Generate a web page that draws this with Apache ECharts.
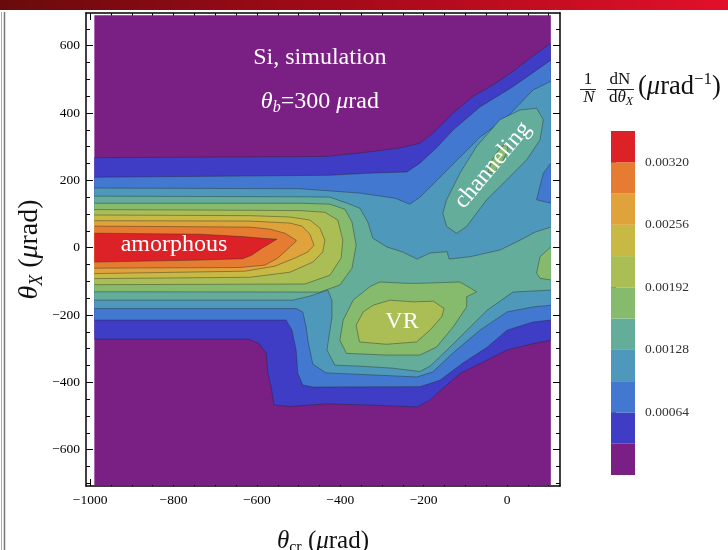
<!DOCTYPE html>
<html><head><meta charset="utf-8">
<script src="https://cdn.jsdelivr.net/npm/echarts@6/dist/echarts.min.js"></script>
<style>html,body{margin:0;padding:0;background:#fff}#c{width:728px;height:550px}</style>
</head><body><div id="c"></div>
<script>
// ---------- data ----------
const X_TICKS = [-1000, -800, -600, -400, -200, 0];
const Y_TICKS = [-600, -400, -200, 0, 200, 400, 600];
const X_MINOR = [-1000,-950,-900,-850,-800,-750,-700,-650,-600,-550,-500,-450,-400,-350,-300,-250,-200,-150,-100,-50,0,50,100];
const Y_MINOR = [-700,-650,-600,-550,-500,-450,-400,-350,-300,-250,-200,-150,-100,-50,0,50,100,150,200,250,300,350,400,450,500,550,600,650];
const DATA_X = [-990, 105];
const DATA_Y = [-705, 690];
// band lower bounds (1/N dN/dθX, µrad^-1)
const LEVELS = [0, 0.00032, 0.00064, 0.00096, 0.00128, 0.0016, 0.00192, 0.00224, 0.00256, 0.00288, 0.0032];
const CB_MAX = 0.00352;
const CB_TICKS = [0.00064, 0.00128, 0.00192, 0.00256, 0.0032];
const LEVEL_COLORS = ['#7a1f84','#3f3cc6','#4278d0','#4e98bb','#64ad9b','#86bb6e','#abbd55','#c8b945','#e0a23a','#e67c32','#dc2227'];

// contour regions (superlevel sets) in (θcr, θX) µrad
const L0 = [[-990,-705],[-990,690],[105,690],[105,-705]];
const L1 = [[-990,267],[-434,271],[-353,281],[-257,296],[-209,310],[-178,340],[-130,399],[-82,449],[-34,483],[14,523],[62,569],[105,607],[105,-275],[62,-285],[0,-304],[-48,-334],[-113,-374],[-168,-433],[-185,-453],[-216,-473],[-320,-468],[-434,-464],[-523,-472],[-559,-467],[-566,-413],[-574,-372],[-578,-313],[-595,-285],[-619,-272],[-990,-272]];
const L2 = [[-990,209],[-425,215],[-336,221],[-240,225],[-209,251],[-168,298],[-130,349],[-65,418],[14,478],[105,557],[105,-215],[62,-221],[0,-245],[-48,-296],[-106,-343],[-161,-394],[-209,-413],[-466,-414],[-490,-408],[-502,-373],[-506,-304],[-516,-245],[-530,-215],[-990,-215]];
const L3 = [[-990,177],[-497,175],[-353,162],[-269,147],[-233,129],[-209,150],[-168,200],[-120,260],[-65,328],[0,388],[62,468],[105,494],[105,251],[87,221],[79,183],[71,142],[105,132],[105,-171],[62,-176],[0,-191],[-65,-245],[-130,-313],[-178,-369],[-216,-384],[-434,-372],[-466,-346],[-478,-275],[-482,-235],[-490,-191],[-506,-181],[-990,-181]];
const L4_MAIN = [[-990,153],[-497,151],[-425,150],[-384,132],[-353,117],[-334,76],[-322,28],[-288,2],[-250,-13],[-216,-34],[-185,-16],[-144,-12],[-139,-34],[-89,-27],[-17,-7],[31,22],[67,46],[105,61],[105,-126],[14,-132],[-48,-186],[-96,-245],[-144,-304],[-185,-352],[-209,-368],[-274,-358],[-353,-352],[-413,-349],[-432,-304],[-420,-206],[-420,-156],[-430,-126],[-473,-144],[-514,-156],[-990,-156]];
const L4_CHAN = [[-154,102],[-145,142],[-113,221],[-73,301],[-17,380],[31,409],[71,414],[87,380],[79,320],[47,261],[-1,201],[-49,142],[-97,63],[-121,43],[-145,63]];
const L5_AMOR = [[-990,132],[-497,132],[-425,129],[-389,114],[-372,76],[-362,7],[-372,-61],[-401,-111],[-449,-132],[-990,-131]];
const L5_VR = [[-401,-275],[-393,-215],[-369,-156],[-329,-116],[-305,-102],[-241,-106],[-209,-106],[-113,-102],[-73,-131],[-97,-146],[-97,-176],[-129,-235],[-169,-295],[-209,-319],[-289,-319],[-385,-314]];
const L5_EDGE = [[105,2],[79,-27],[71,-76],[79,-91],[105,-96]];
const L5_CHAN = [[-46,224],[-36,260],[-17,296],[0,310],[2,290],[-12,254],[-31,224]];
const L6_AMOR = [[-990,113],[-617,111],[-497,110],[-437,105],[-406,82],[-394,22],[-398,-31],[-425,-82],[-485,-108],[-990,-110]];
const L6_VR = [[-362,-230],[-345,-191],[-321,-171],[-281,-156],[-225,-161],[-177,-159],[-151,-181],[-157,-206],[-185,-245],[-217,-280],[-289,-287],[-354,-280]];
const L7 = [[-990,97],[-617,95],[-521,91],[-473,82],[-449,58],[-437,22],[-442,-13],[-466,-43],[-521,-73],[-617,-88],[-990,-92]];
const L8 = [[-990,80],[-617,79],[-521,73],[-492,64],[-473,40],[-463,7],[-478,-13],[-509,-31],[-557,-55],[-629,-70],[-990,-77]];
const L9 = [[-990,64],[-617,61],[-569,55],[-533,43],[-506,22],[-506,19],[-526,-4],[-550,-31],[-581,-52],[-641,-59],[-990,-61]];
const L10 = [[-990,43],[-737,40],[-636,33],[-588,28],[-552,25],[-564,16],[-588,-2],[-612,-22],[-634,-33],[-737,-37],[-990,-43]];

const CONTOURS = [
  {level:0, pts:L0},{level:1, pts:L1},{level:2, pts:L2},{level:3, pts:L3},
  {level:4, pts:L4_MAIN},{level:4, pts:L4_CHAN},
  {level:5, pts:L5_AMOR},{level:5, pts:L5_VR},{level:5, pts:L5_EDGE},{level:5, pts:L5_CHAN},
  {level:6, pts:L6_AMOR},{level:6, pts:L6_VR},
  {level:7, pts:L7},{level:8, pts:L8},{level:9, pts:L9},{level:10, pts:L10}
];

// annotations (text, data position, rotation in degrees)
const ANNOT_TEXT = ['Si, simulation', '{i|θ}{s|b}=300 {i|μ}rad', 'amorphous', 'VR', 'channeling'];
const ANNOT_POS = [[-449,563],[-449,435],[-799,8],[-252,-221],[-34,245]];
const ANNOT_ROT = [0, 0, 0, 0, 50];

// ---------- chart ----------
const SERIF = '"Liberation Serif","DejaVu Serif",serif';
const chart = echarts.init(document.getElementById('c'), null, {renderer:'canvas'});
const fmt = v => String(v).replace('-', '\u2212');
const G = {left:86, top:13, width:474, height:473, containLabel:false, outerBoundsMode:'none'};
const XR = {min:-1010, max:127}, YR = {min:-708, max:697};
const AF = 24; // annotation font size

function onBorder(a, b) {
  return (a[0] === b[0] && (a[0] === DATA_X[0] || a[0] === DATA_X[1])) ||
         (a[1] === b[1] && (a[1] === DATA_Y[0] || a[1] === DATA_Y[1]));
}
function contourItem(params, api) {
  const c = CONTOURS[params.dataIndex];
  const pts = c.pts.map(p => api.coord(p));
  const children = [{type:'polygon', shape:{points:pts}, style:{fill:LEVEL_COLORS[c.level]}}];
  if (c.level > 0) {
    const n = c.pts.length, lines = [];
    let cur = [];
    for (let i = 0; i < n; i++) {
      const j = (i + 1) % n;
      if (onBorder(c.pts[i], c.pts[j])) { if (cur.length > 1) lines.push(cur); cur = []; }
      else { if (!cur.length) cur.push(pts[i]); cur.push(pts[j]); }
    }
    if (cur.length > 1) lines.push(cur);
    lines.forEach(l => children.push({type:'polyline', shape:{points:l},
      style:{fill:null, stroke:'rgba(35,35,35,0.5)', lineWidth:0.8}}));
  }
  return {type:'group', children};
}
function annotItem(params, api) {
  const i = params.dataIndex;
  const p = api.coord(ANNOT_POS[i]);
  return {type:'text', x:p[0], y:p[1], rotation:ANNOT_ROT[i]*Math.PI/180,
    style:{text:ANNOT_TEXT[i], fill:'#fff', fontSize:AF, fontFamily:SERIF, align:'center', verticalAlign:'middle',
      rich:{i:{fontStyle:'italic', fontSize:AF, fontFamily:SERIF, fill:'#fff', lineHeight:30},
            s:{fontStyle:'italic', fontSize:16, fontFamily:SERIF, fill:'#fff', lineHeight:16, verticalAlign:'bottom'}}}};
}
function cbItem(params, api) {
  const i = params.dataIndex;
  const lo = LEVELS[i], hi = i + 1 < LEVELS.length ? LEVELS[i+1] : CB_MAX;
  const p0 = api.coord([0, lo]), p1 = api.coord([1, hi]);
  return {type:'rect', shape:{x:p0[0], y:p1[1], width:p1[0]-p0[0], height:p0[1]-p1[1]}, style:{fill:LEVEL_COLORS[i]}};
}

const axLine = {show:true, onZero:false, lineStyle:{color:'#000', width:1.5}};
const noLine = {show:false, onZero:false};
const tickMaj = vals => ({show:true, inside:true, length:7, customValues:vals, lineStyle:{color:'#000', width:1}});
const tickMin = vals => ({show:true, inside:true, length:4, customValues:vals, lineStyle:{color:'#000', width:1}});
const lab = {fontFamily:SERIF, fontSize:13.5, color:'#000'};
const mkRich = (F, SF) => ({
  i:{fontStyle:'italic', fontSize:F, fontFamily:SERIF, color:'#111', lineHeight:F + 5},
  r:{fontSize:F, fontFamily:SERIF, color:'#111', lineHeight:F + 5},
  s:{fontStyle:'italic', fontSize:SF, fontFamily:SERIF, color:'#111', lineHeight:SF, verticalAlign:'bottom'},
  sr:{fontSize:SF, fontFamily:SERIF, color:'#111', lineHeight:SF, verticalAlign:'bottom'}
});

const option = {
  animation:false,
  grid:[
    Object.assign({}, G),
    Object.assign({}, G),
    {left:611, top:131, width:24, height:344, containLabel:false, outerBoundsMode:'none'}
  ],
  xAxis:[
    Object.assign({type:'value', gridIndex:0, position:'bottom', axisLine:axLine, axisTick:tickMaj(X_TICKS),
      axisLabel:Object.assign({customValues:X_TICKS, formatter:fmt, margin:7}, lab), splitLine:{show:false},
      name:'{i|θ}{sr|cr} {r|(}{i|μ}{r|rad)}', nameLocation:'middle', nameGap:40, nameTextStyle:{rich:mkRich(25,16), fontSize:25, fontFamily:SERIF}}, XR),
    Object.assign({type:'value', gridIndex:0, position:'top', axisLine:axLine, axisTick:tickMaj(X_TICKS), axisLabel:{show:false}, splitLine:{show:false}}, XR),
    Object.assign({type:'value', gridIndex:1, position:'bottom', axisLine:noLine, axisTick:tickMin(X_MINOR), axisLabel:{show:false}, splitLine:{show:false}}, XR),
    Object.assign({type:'value', gridIndex:1, position:'top', axisLine:noLine, axisTick:tickMin(X_MINOR), axisLabel:{show:false}, splitLine:{show:false}}, XR),
    {type:'value', gridIndex:2, min:0, max:1, show:false}
  ],
  yAxis:[
    Object.assign({type:'value', gridIndex:0, position:'left', axisLine:axLine, axisTick:tickMaj(Y_TICKS),
      axisLabel:Object.assign({customValues:Y_TICKS, formatter:fmt, margin:6}, lab), splitLine:{show:false},
      name:'{i|θ}{s|X} {r|(}{i|μ}{r|rad)}', nameLocation:'middle', nameGap:40, nameMoveOverlap:false, nameRotate:90,
      nameTextStyle:{rich:mkRich(28,18), fontSize:28, fontFamily:SERIF}}, YR),
    Object.assign({type:'value', gridIndex:0, position:'right', axisLine:axLine, axisTick:tickMaj(Y_TICKS), axisLabel:{show:false}, splitLine:{show:false}}, YR),
    Object.assign({type:'value', gridIndex:1, position:'left', axisLine:noLine, axisTick:tickMin(Y_MINOR), axisLabel:{show:false}, splitLine:{show:false}}, YR),
    Object.assign({type:'value', gridIndex:1, position:'right', axisLine:noLine, axisTick:tickMin(Y_MINOR), axisLabel:{show:false}, splitLine:{show:false}}, YR),
    {type:'value', gridIndex:2, position:'right', min:0, max:CB_MAX, axisLine:{show:false},
      axisTick:{show:true, inside:false, length:5, customValues:CB_TICKS, lineStyle:{color:'#555'}},
      axisLabel:{customValues:CB_TICKS, formatter:v => v.toFixed(5), margin:10, fontFamily:SERIF, fontSize:13.5, color:'#333'},
      splitLine:{show:false}}
  ],
  series:[
    {type:'custom', xAxisIndex:0, yAxisIndex:0, renderItem:contourItem, silent:true, z:1,
      encode:{x:0, y:1}, data:CONTOURS.map(c => [c.pts[0][0], c.pts[0][1]])},
    {type:'custom', xAxisIndex:0, yAxisIndex:0, renderItem:annotItem, silent:true, z:5,
      encode:{x:0, y:1}, data:ANNOT_POS.map(p => [p[0], p[1]])},
    {type:'custom', xAxisIndex:4, yAxisIndex:4, renderItem:cbItem, silent:true,
      encode:{x:0, y:1}, data:LEVELS.map(v => [0, v])}
  ],
  graphic:[
    {type:'rect', left:0, top:0, shape:{width:728, height:10}, z:100,
      style:{fill:new echarts.graphic.LinearGradient(0,0,1,0,[{offset:0,color:'#6a0a0c'},{offset:0.5,color:'#a80a1a'},{offset:1,color:'#e2102a'}])}},
    {type:'line', shape:{x1:1.5, y1:12, x2:1.5, y2:550}, style:{stroke:'#aaa', lineWidth:1}},
    {type:'line', shape:{x1:4.5, y1:12, x2:4.5, y2:550}, style:{stroke:'#777', lineWidth:1.5}},
    // colorbar title
    {type:'text', x:588, y:80, style:{text:'1', fontSize:17, fontFamily:SERIF, fill:'#111', align:'center', verticalAlign:'middle'}},
    {type:'line', shape:{x1:580, y1:89.5, x2:596, y2:89.5}, style:{stroke:'#111', lineWidth:0.9}},
    {type:'text', x:589, y:98, style:{text:'N', fontSize:17, fontStyle:'italic', fontFamily:SERIF, fill:'#111', align:'center', verticalAlign:'middle'}},
    {type:'text', x:620, y:80, style:{text:'dN', fontSize:17, fontFamily:SERIF, fill:'#111', align:'center', verticalAlign:'middle'}},
    {type:'line', shape:{x1:607, y1:89.5, x2:634, y2:89.5}, style:{stroke:'#111', lineWidth:0.9}},
    {type:'text', x:621, y:98, style:{text:'d{i|θ}{s|X}', fontSize:17, fontFamily:SERIF, fill:'#111', align:'center', verticalAlign:'middle',
      rich:{i:{fontStyle:'italic', fontSize:17, fontFamily:SERIF, lineHeight:20}, s:{fontStyle:'italic', fontSize:12, fontFamily:SERIF, lineHeight:12, verticalAlign:'bottom'}}}},
    {type:'text', x:638, y:87, style:{text:'({i|μ}rad{u|−1})', fontSize:26.5, fontFamily:SERIF, fill:'#111', align:'left', verticalAlign:'middle',
      rich:{i:{fontStyle:'italic', fontSize:26.5, fontFamily:SERIF, lineHeight:31}, u:{fontSize:17, fontFamily:SERIF, lineHeight:17, verticalAlign:'top'}}}}
  ]
};
chart.setOption(option);
</script></body></html>
